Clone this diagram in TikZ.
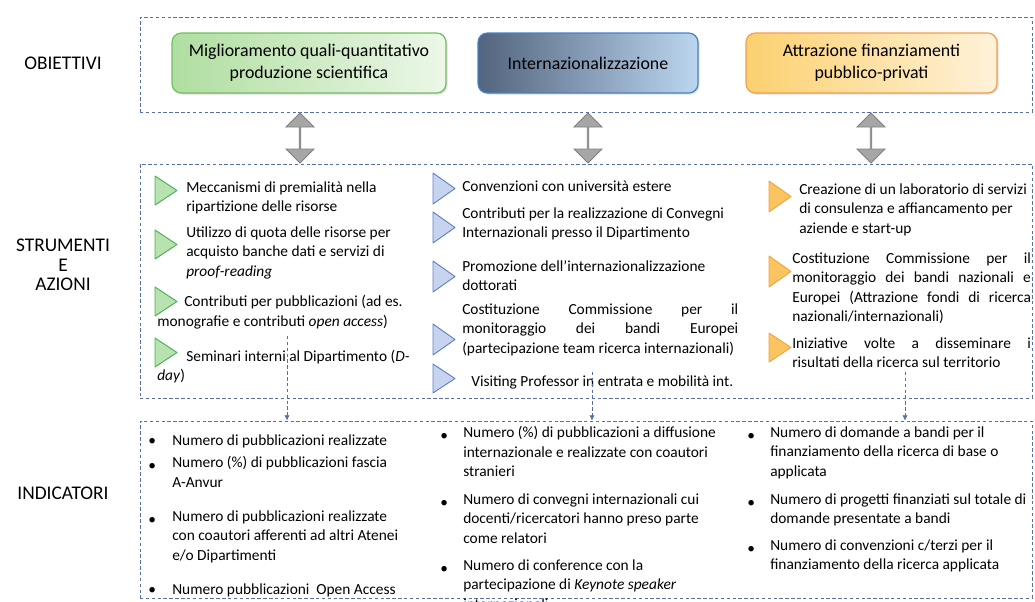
\documentclass[tikz,border=0pt]{standalone}
\usepackage{fontspec}
\setmainfont{Carlito}
\usetikzlibrary{shapes.arrows,shadows,fit,arrows.meta}
\definecolor{dashc}{RGB}{84,112,168}
\definecolor{gL}{RGB}{176,222,160}
\definecolor{gR}{RGB}{236,247,232}
\definecolor{gD}{RGB}{112,190,96}
\definecolor{bL}{RGB}{82,100,126}
\definecolor{bR}{RGB}{188,214,240}
\definecolor{bD}{RGB}{70,130,196}
\definecolor{oL}{RGB}{252,208,112}
\definecolor{oR}{RGB}{255,242,218}
\definecolor{oD}{RGB}{238,160,80}
\definecolor{arrF}{RGB}{166,166,166}
\definecolor{arrD}{RGB}{128,128,128}
\definecolor{tgF}{RGB}{184,226,176}
\definecolor{tgD}{RGB}{72,176,84}
\definecolor{tbF}{RGB}{198,212,240}
\definecolor{tbD}{RGB}{96,128,196}
\definecolor{toF}{RGB}{252,196,96}
\definecolor{toD}{RGB}{240,164,64}
\newcommand{\bodyfont}{\fontsize{11.55}{14.6}\selectfont}
\newcommand{\mytri}[4]{\draw[#1] (#2,#3) -- ++(22,#4/2) -- ++(-22,#4/2) -- cycle;}
\begin{document}
\begin{tikzpicture}[x=0.75pt,y=-0.75pt,
  sec/.style={draw=dashc, dash pattern=on 2.6pt off 1.8pt, line width=0.6pt, inner sep=0pt},
  lab/.style={font=\fontsize{14.5}{14.6}\selectfont, align=center, inner sep=0pt},
  goal/.style={rounded corners=7pt, line width=0.9pt, align=center, inner sep=0pt,
     font=\fontsize{13.4}{16.5}\selectfont, minimum height=45pt,
     drop shadow={opacity=0.25, shadow xshift=1.2pt, shadow yshift=-1.2pt}},
  dbl/.style={shape=double arrow, rotate=90, fill=arrF, draw=arrD, line width=0.6pt,
     double arrow head extend=5.25pt, double arrow tip angle=90,
     minimum height=37.5pt, minimum width=21pt, inner sep=0pt},
  txt/.style={anchor=north west, yshift=10.22pt, inner sep=0pt, align=left, font=\bodyfont,
     execute at begin node=\strut},
  bul/.style={anchor=base west, inner sep=0pt, font=\bodyfont},
  conn/.style={draw=dashc, dash pattern=on 2.6pt off 1.8pt, line width=0.6pt, -{Latex[length=4pt,width=4pt]}},
  trg/.style={fill=tgF, draw=tgD, line width=0.7pt, line join=round},
  trb/.style={fill=tbF, draw=tbD, line width=0.7pt, line join=round},
  tro/.style={fill=toF, draw=toD, line width=0.7pt, line join=round}]
\useasboundingbox (0,0) rectangle (1035,601);

% section boxes
\node[sec, fit={(140,17) (1032,112)}] (objbox) {};
\node[sec, fit={(140,164) (1032,398)}] (strbox) {};
\node[sec, fit={(140,421) (1032,598)}] (indbox) {};

% row labels
\node[lab] (lobj) at (63,63) {OBIETTIVI};
\node[lab] (lstr) at (63,265) {STRUMENTI\\E\\AZIONI};
\node[lab] (lind) at (63,493) {INDICATORI};

% goals
\node[goal, minimum width=205.5pt, left color=gL, right color=gR, draw=gD] (g1) at (309,63)
  {Miglioramento quali-quantitativo\\produzione scientifica};
\node[goal, minimum width=165pt, left color=bL, right color=bR, draw=bD] (g2) at (588,63)
  {Internazionalizzazione};
\node[goal, minimum width=188.25pt, left color=oL, right color=oR, draw=oD] (g3) at (871.5,63)
  {Attrazione finanziamenti\\pubblico-privati};

% grey double arrows
\node[dbl] (a1) at (300,138) {};
\node[dbl] (a2) at (588,138) {};
\node[dbl] (a3) at (871,138) {};

% green column
\mytri{trg}{155}{176}{29}
\mytri{trg}{155}{230}{29}
\mytri{trg}{155}{287}{29}
\mytri{trg}{155}{338}{29}
\node[txt] (s11) at (186,195) {Meccanismi di premialità nella\\ripartizione delle risorse};
\node[txt] (s12) at (186,240) {Utilizzo di quota delle risorse per\\acquisto banche dati e servizi di\\\textit{proof-reading}};
\node[txt] (s13) at (184,306) {Contributi per pubblicazioni (ad es.};
\node[txt] (s13b) at (157,326) {monografie e contributi \textit{open access})};
\node[txt] (s14) at (186,361) {Seminari interni al Dipartimento (\textit{D-}};
\node[txt] (s14b) at (157,380) {\textit{day})};

% blue column
\mytri{trb}{433}{173}{31}
\mytri{trb}{433}{212}{31}
\mytri{trb}{433}{261}{31}
\mytri{trb}{433}{324}{31}
\mytri{trb}{433}{364}{29}
\node[txt] (s21) at (462,191) {Convenzioni con università estere};
\node[txt] (s22) at (462,221) {Contributi per la realizzazione di Convegni\\Internazionali presso il Dipartimento};
\node[txt] (s23) at (462,274) {Promozione dell’internazionalizzazione\\dottorati};
\node[txt] (s24) at (462,317) {\makebox[207pt][s]{Costituzione Commissione per il}\\\makebox[207pt][s]{monitoraggio dei bandi Europei}\\(partecipazione team ricerca internazionali)};
\node[txt] (s25) at (471,386) {Visiting Professor in entrata e mobilità int.};

% orange column
\mytri{tro}{769}{181}{31}
\mytri{tro}{769}{256}{31}
\mytri{tro}{769}{333}{29}
\node[txt] (s31) at (799,197) {Creazione di un laboratorio di servizi\\di consulenza e affiancamento per\\aziende e start-up};
\node[txt] (s32) at (792,266) {\makebox[179pt][s]{Costituzione Commissione per il}\\\makebox[179pt][s]{monitoraggio dei bandi nazionali e}\\\makebox[179pt][s]{Europei (Attrazione fondi di ricerca}\\nazionali/internazionali)};
\node[txt] (s33) at (792,351) {\makebox[179pt][s]{Iniziative volte a disseminare i}\\risultati della ricerca sul territorio};

% dashed connectors
\coordinate (c1) at (287,336);
\coordinate (c2) at (592,372);
\coordinate (c3) at (905,372);
\draw[conn] (c1) -- (c1 |- indbox.north);
\draw[conn] (c2) -- (c2 |- indbox.north);
\draw[conn] (c3) -- (c3 |- indbox.north);

% indicators left
\foreach \y in {445,470,524,594} \node[bul] at (148,\y) {•};
\node[txt] (i11) at (172,445) {Numero di pubblicazioni realizzate};
\node[txt] (i12) at (172,470) {Numero (\%) di pubblicazioni fascia\\A-Anvur};
\node[txt] (i13) at (172,524) {Numero di pubblicazioni realizzate\\con coautori afferenti ad altri Atenei\\e/o Dipartimenti};
\node[txt] (i14) at (172,594) {Numero pubblicazioni\ \ Open Access};

% indicators centre
\foreach \y in {440,507,573} \node[bul] at (440,\y) {•};
\node[txt] (i21) at (463,440) {Numero (\%) di pubblicazioni a diffusione\\internazionale e realizzate con coautori\\stranieri};
\node[txt] (i22) at (463,507) {Numero di convegni internazionali cui\\docenti/ricercatori hanno preso parte\\come relatori};
\node[txt] (i23) at (463,573) {Numero di conference con la\\partecipazione di \textit{Keynote speaker}\\internazionali};

% indicators right
\foreach \y in {440,507,553} \node[bul] at (747,\y) {•};
\node[txt] (i31) at (770,440) {Numero di domande a bandi per il\\finanziamento della ricerca di base o\\applicata};
\node[txt] (i32) at (770,507) {Numero di progetti finanziati sul totale di\\domande presentate a bandi};
\node[txt] (i33) at (770,553) {Numero di convenzioni c/terzi per il\\finanziamento della ricerca applicata};
\end{tikzpicture}
\end{document}
